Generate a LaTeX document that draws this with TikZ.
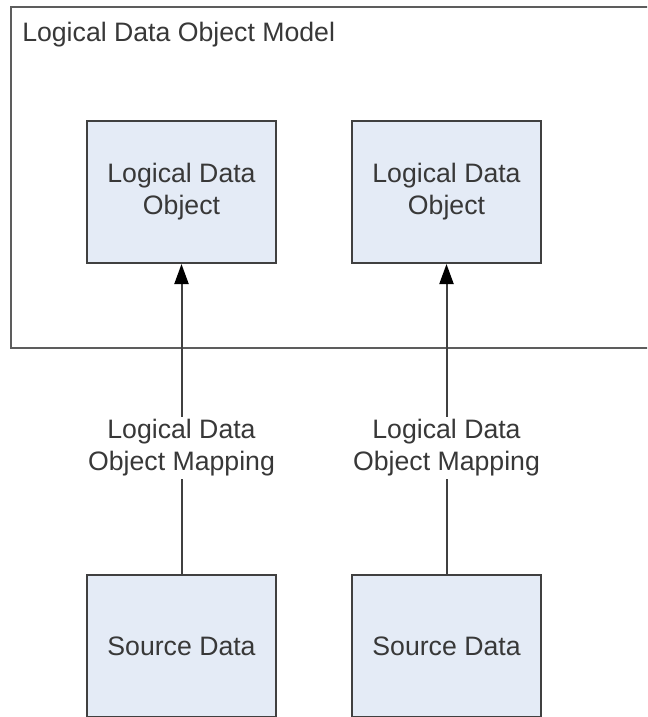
\documentclass[tikz,border=0pt]{standalone}
\usepackage{fontspec}
\setmainfont{Liberation Sans}
\usetikzlibrary{arrows.meta}
\definecolor{boxfill}{HTML}{E4EBF6}
\definecolor{edge}{HTML}{404040}
\definecolor{ink}{HTML}{383838}
\tikzset{
  entity/.style={draw=edge, fill=boxfill, line width=1.5pt,
    minimum width=141.75pt, minimum height=106.5pt, align=center,
    text=ink, font=\fontsize{20}{24}\selectfont, inner sep=0pt},
  container/.style={draw=edge!85, line width=2.2pt},
  conn/.style={draw=edge, line width=1.5pt,
    -{Triangle[length=15pt,width=10.5pt,color=black]}},
  maplabel/.style={fill=white, align=center, text=ink,
    font=\fontsize{20}{24}\selectfont, inner sep=2pt},
  title/.style={text=ink, font=\fontsize{20}{24}\selectfont, inner sep=0pt}
}
\begin{document}
\begin{tikzpicture}[x=0.75pt,y=-0.75pt]
  \clip (0,0) rectangle (647,717);
  \useasboundingbox (0,0) rectangle (647,717);
  % container for the model
  \draw[container] (11,7) rectangle (670,348);
  \node[title, anchor=base west] (model) at (22,42) {Logical Data Object Model};
  % logical data objects
  \node[entity] (ldo1) at (181.5,192) {Logical Data\\Object};
  \node[entity] (ldo2) at (446.5,192) {Logical Data\\Object};
  % source data
  \node[entity] (src1) at (181.5,646) {Source Data};
  \node[entity] (src2) at (446.5,646) {Source Data};
  % mappings
  \draw[conn] (src1) -- node[maplabel, pos=0.407] (map1) {Logical Data\\Object Mapping} (ldo1);
  \draw[conn] (src2) -- node[maplabel, pos=0.407] (map2) {Logical Data\\Object Mapping} (ldo2);
\end{tikzpicture}
\end{document}
